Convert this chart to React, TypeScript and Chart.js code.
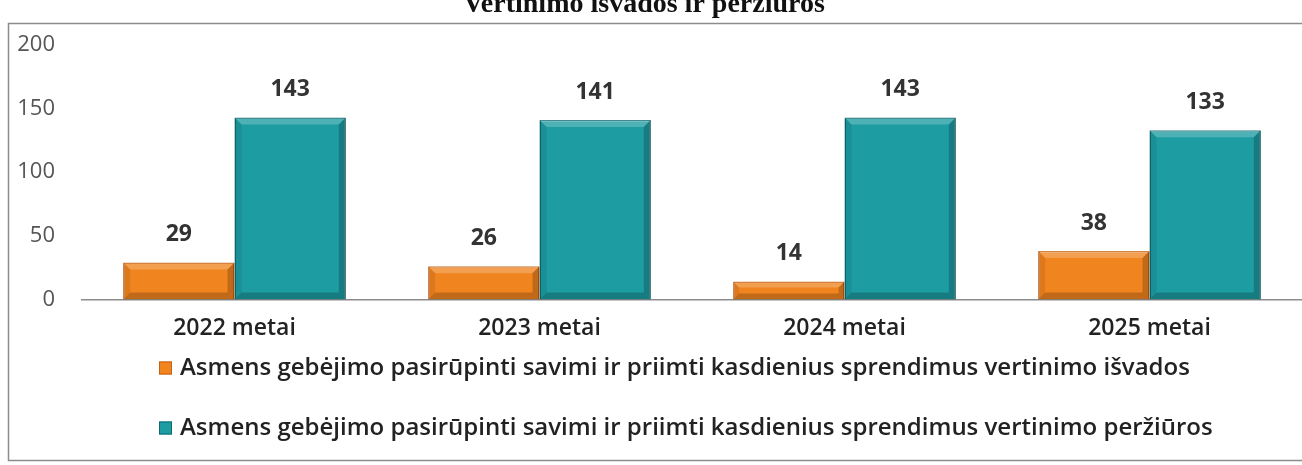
import React, { useEffect, useRef } from "react";
import { Chart, registerables } from "chart.js";

Chart.register(...registerables);

const TITLE = "Vertinimo išvados ir peržiūros";
const categories = ["2022 metai", "2023 metai", "2024 metai", "2025 metai"];
const seriesNames = [
  "Asmens gebėjimo pasirūpinti savimi ir priimti kasdienius sprendimus vertinimo išvados",
  "Asmens gebėjimo pasirūpinti savimi ir priimti kasdienius sprendimus vertinimo peržiūros",
];
const isvados = [29, 26, 14, 38];
const perziuros = [143, 141, 143, 133];
const yTicks = [0, 50, 100, 150, 200];

const FONT = "'Open Sans', Lato, sans-serif";

const decorPlugin = {
  id: "decor",
  beforeDraw(chart: any) {
    const { ctx, width, height } = chart;
    ctx.save();
    ctx.fillStyle = "#ffffff";
    ctx.fillRect(0, 0, width, height);
    ctx.strokeStyle = "#8c8c8c";
    ctx.lineWidth = 1.5;
    ctx.strokeRect(8.5, 23.5, width + 20, 437);
    ctx.fillStyle = "#111";
    ctx.font = "bold 28px 'Liberation Serif', serif";
    ctx.textAlign = "center";
    ctx.textBaseline = "alphabetic";
    ctx.fillText(TITLE, 644, 12);
    ctx.restore();
  },
  afterDatasetsDraw(chart: any) {
    const { ctx } = chart;
    ctx.save();
    // bevel shading on bars
    chart.data.datasets.forEach((ds: any, di: number) => {
      const meta = chart.getDatasetMeta(di);
      meta.data.forEach((el: any) => {
        const l = el.x - el.width / 2;
        const r = el.x + el.width / 2;
        const t = el.y;
        const b = el.base;
        const bv = Math.min(7, (b - t) / 3);
        ctx.fillStyle = "rgba(255,255,255,0.22)";
        ctx.beginPath();
        ctx.moveTo(l, t);
        ctx.lineTo(r, t);
        ctx.lineTo(r - bv, t + bv);
        ctx.lineTo(l + bv, t + bv);
        ctx.closePath();
        ctx.fill();
        ctx.fillStyle = "rgba(0,0,0,0.08)";
        ctx.beginPath();
        ctx.moveTo(l, t);
        ctx.lineTo(l + bv, t + bv);
        ctx.lineTo(l + bv, b - bv);
        ctx.lineTo(l, b);
        ctx.closePath();
        ctx.fill();
        ctx.fillStyle = "rgba(0,0,0,0.2)";
        ctx.beginPath();
        ctx.moveTo(r, t);
        ctx.lineTo(r, b);
        ctx.lineTo(r - bv, b - bv);
        ctx.lineTo(r - bv, t + bv);
        ctx.closePath();
        ctx.fill();
        ctx.beginPath();
        ctx.moveTo(l, b);
        ctx.lineTo(r, b);
        ctx.lineTo(r - bv, b - bv);
        ctx.lineTo(l + bv, b - bv);
        ctx.closePath();
        ctx.fill();
      });
    });
    ctx.font = `bold 23px ${FONT}`;
    ctx.fillStyle = "#333333";
    ctx.textAlign = "center";
    ctx.textBaseline = "middle";
    chart.data.datasets.forEach((ds: any, di: number) => {
      const meta = chart.getDatasetMeta(di);
      meta.data.forEach((el: any, i: number) => {
        ctx.fillText(String(ds.data[i]), el.x, el.y - 28);
      });
    });
    // legend
    const rows = [368, 428];
    chart.data.datasets.forEach((ds: any, di: number) => {
      const y = rows[di];
      ctx.fillStyle = ds.backgroundColor;
      ctx.fillRect(159, y - 6.5, 13, 13);
      ctx.strokeStyle = ds.borderColor;
      ctx.lineWidth = 1;
      ctx.strokeRect(159.5, y - 6, 12, 12);
      ctx.fillStyle = "#222222";
      ctx.font = `600 24px ${FONT}`;
      ctx.textAlign = "left";
      ctx.textBaseline = "middle";
      ctx.fillText(ds.label, 180, y);
    });
    ctx.restore();
  },
};

export default function App() {
  const ref = useRef<HTMLCanvasElement | null>(null);
  useEffect(() => {
    if (!ref.current) return;
    const chart = new Chart(ref.current, {
      type: "bar",
      data: {
        labels: categories,
        datasets: [
          {
            label: seriesNames[0],
            data: isvados,
            backgroundColor: "#F0841F",
            borderColor: "#C85F0E",
            borderWidth: 1.5,
          },
          {
            label: seriesNames[1],
            data: perziuros,
            backgroundColor: "#1D9CA2",
            borderColor: "#0B6C72",
            borderWidth: 1.5,
          },
        ],
      },
      options: {
        animation: false,
        responsive: false,
        maintainAspectRatio: false,
        layout: { padding: { top: 45, bottom: 108, left: 0, right: 0 } },
        datasets: { bar: { categoryPercentage: 0.73, barPercentage: 1 } },
        plugins: {
          legend: { display: false },
          tooltip: { enabled: false },
          title: { display: false },
        },
        scales: {
          x: {
            grid: { display: false, drawTicks: false },
            border: { display: true, color: "#8c8c8c", width: 1.5 },
            ticks: { padding: 15, color: "#222222", font: { family: FONT, size: 23, weight: "600" } },
          },
          y: {
            min: 0,
            max: 200,
            afterFit: (s: any) => {
              s.width = 82;
            },
            afterBuildTicks: (s: any) => {
              s.ticks = yTicks.map((v) => ({ value: v }));
            },
            grid: { display: false, drawTicks: false },
            border: { display: false },
            ticks: { padding: 27, color: "#555555", font: { family: FONT, size: 22 } },
          },
        },
      },
      plugins: [decorPlugin],
    });
    return () => chart.destroy();
  }, []);
  return (
    <div style={{ position: "fixed", left: 0, top: 0, width: 1302, height: 465 }}>
      <canvas ref={ref} width={1302} height={465} style={{ width: 1302, height: 465 }} />
    </div>
  );
}
